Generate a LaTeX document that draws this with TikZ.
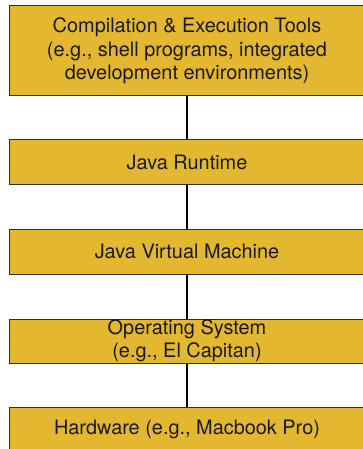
\documentclass[tikz,border=0pt]{standalone}
\usepackage{fontspec}
\setmainfont{TeX Gyre Heros}
\definecolor{boxgold}{RGB}{227,183,48}
\definecolor{edgegray}{RGB}{45,45,45}
\definecolor{txt}{RGB}{25,25,25}
\begin{document}
\begin{tikzpicture}[x=1pt,y=-1pt,
  layer/.style={draw=edgegray, line width=1pt, fill=boxgold, text=txt,
    minimum width=356pt, inner sep=0pt, align=center,
    font=\fontsize{19.9}{23.3}\selectfont},
  link/.style={draw=black, line width=1.4pt}]
\useasboundingbox (0,0) rectangle (362,449);
\node[layer, minimum height=90pt] (tools) at (187,51)
  {Compilation \& Execution Tools\\(e.g., shell programs, integrated\\development environments)};
\node[layer, minimum height=44pt] (jre) at (187,162) {Java Runtime};
\node[layer, minimum height=45pt] (jvm) at (187,251.5) {Java Virtual Machine};
\node[layer, minimum height=44pt] (os) at (187,341) {Operating System\\(e.g., El Capitan)};
\node[layer, minimum height=44pt] (hw) at (187,429) {Hardware (e.g., Macbook Pro)};
\draw[link] (tools.south) -- (jre.north);
\draw[link] (jre.south) -- (jvm.north);
\draw[link] (jvm.south) -- (os.north);
\draw[link] (os.south) -- (hw.north);
\end{tikzpicture}
\end{document}
